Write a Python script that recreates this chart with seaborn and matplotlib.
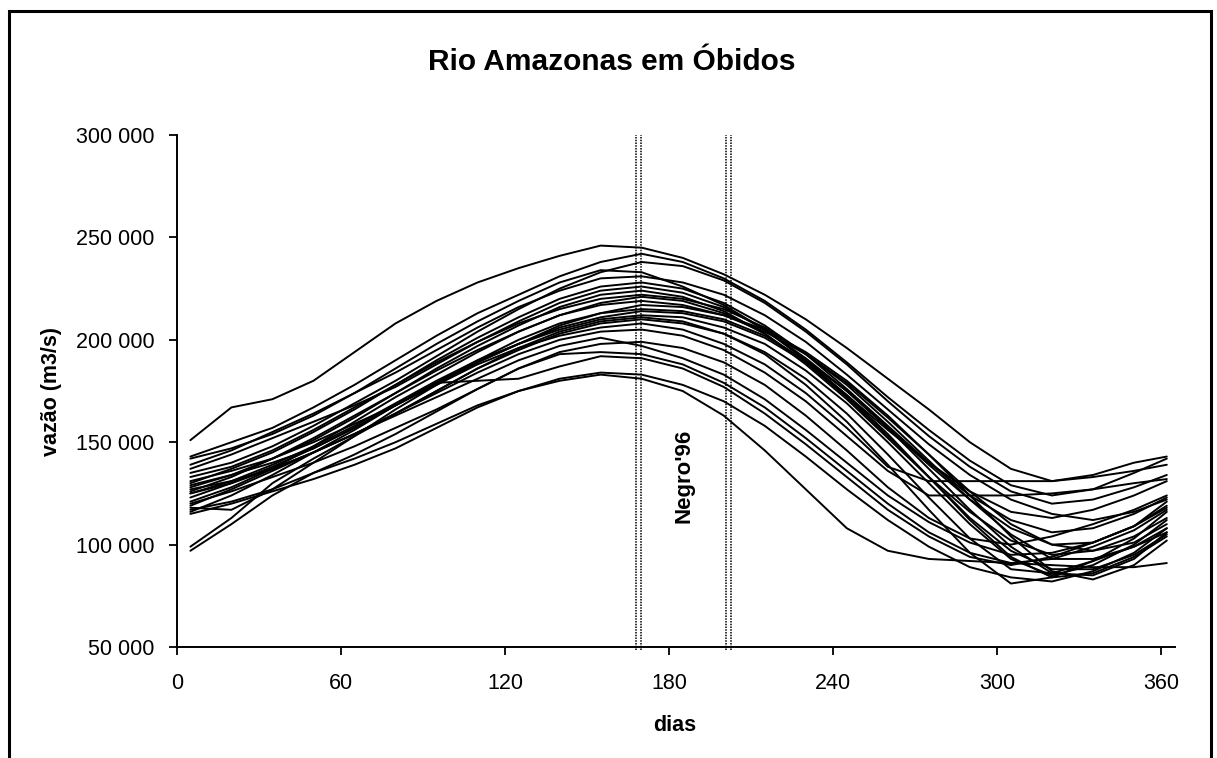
import pandas as pd
import matplotlib
matplotlib.use("Agg")
import matplotlib.pyplot as plt
from matplotlib.patches import Rectangle
from matplotlib.ticker import FuncFormatter
import seaborn as sns

# dias de leitura (eixo x) e vazões, em milhares de m3/s
dias = [5, 20, 35, 50, 65, 80, 95, 110, 125, 140, 155, 170, 185,
        200, 215, 230, 245, 260, 275, 290, 305, 320, 335, 350, 362]

serie_01 = [151, 167, 171, 180, 194, 208, 219, 228, 235, 241, 246, 245, 240, 232, 222, 210, 196, 181, 166, 150, 137, 131, 134, 140, 143]
serie_02 = [143, 150, 157, 167, 178, 190, 202, 213, 222, 231, 238, 242, 238, 230, 219, 205, 189, 172, 156, 141, 129, 124, 127, 135, 142]
serie_03 = [135, 140, 148, 158, 169, 180, 192, 204, 215, 225, 233, 238, 236, 229, 218, 204, 188, 170, 153, 138, 126, 120, 122, 128, 134]
serie_04 = [142, 147, 154, 163, 174, 186, 198, 209, 219, 228, 234, 233, 226, 217, 205, 190, 173, 156, 140, 126, 116, 113, 117, 124, 131]
serie_05 = [139, 146, 155, 164, 174, 184, 195, 206, 216, 224, 230, 231, 228, 222, 212, 199, 183, 166, 149, 134, 122, 115, 112, 116, 122]
serie_06 = [130, 137, 145, 155, 166, 178, 190, 201, 211, 220, 226, 228, 225, 218, 207, 193, 176, 158, 140, 124, 112, 106, 108, 115, 123]
serie_07 = [137, 144, 152, 160, 168, 177, 188, 199, 209, 218, 224, 226, 223, 216, 205, 191, 175, 157, 139, 122, 108, 100, 101, 109, 119]
serie_08 = [126, 133, 142, 151, 162, 174, 186, 197, 207, 216, 222, 224, 221, 214, 203, 188, 171, 152, 133, 116, 102, 95, 97, 104, 113]
serie_09 = [133, 138, 146, 156, 167, 178, 189, 199, 208, 215, 220, 222, 220, 215, 206, 193, 178, 160, 141, 122, 105, 93, 93, 99, 108]
serie_10 = [121, 128, 137, 148, 160, 172, 183, 194, 204, 212, 218, 221, 219, 213, 203, 189, 172, 153, 133, 113, 97, 88, 88, 95, 105]
serie_11 = [128, 134, 142, 152, 163, 174, 185, 195, 204, 212, 217, 219, 217, 212, 204, 193, 179, 162, 144, 126, 110, 100, 97, 101, 110]
serie_12 = [118, 117, 127, 140, 153, 166, 178, 189, 198, 207, 213, 217, 216, 212, 205, 194, 180, 163, 144, 124, 104, 87, 83, 90, 102]
serie_13 = [123, 130, 138, 147, 157, 168, 179, 190, 200, 208, 213, 215, 214, 210, 202, 190, 175, 157, 137, 117, 99, 86, 85, 93, 106]
serie_14 = [116, 124, 134, 145, 156, 168, 179, 189, 198, 206, 211, 214, 213, 209, 201, 189, 173, 154, 133, 112, 94, 84, 86, 94, 104]
serie_15 = [125, 131, 139, 148, 158, 169, 180, 190, 198, 205, 210, 212, 211, 206, 198, 185, 169, 150, 130, 110, 93, 85, 90, 100, 112]
serie_16 = [119, 127, 136, 145, 154, 164, 175, 186, 195, 203, 208, 210, 208, 203, 194, 181, 164, 144, 123, 103, 88, 86, 92, 103, 116]
serie_17 = [131, 136, 142, 150, 159, 168, 178, 188, 196, 202, 206, 208, 205, 198, 188, 174, 157, 138, 131, 131, 131, 131, 133, 136, 139]
serie_18 = [127, 131, 137, 145, 154, 164, 174, 184, 193, 200, 204, 205, 202, 195, 184, 170, 153, 136, 124, 124, 124, 125, 127, 130, 132]
serie_19 = [117, 121, 127, 135, 144, 154, 165, 176, 186, 194, 198, 199, 196, 189, 178, 163, 146, 128, 113, 103, 100, 104, 110, 117, 124]
serie_20 = [125, 130, 137, 145, 154, 163, 172, 181, 190, 197, 201, 197, 191, 183, 171, 156, 140, 124, 111, 101, 95, 96, 101, 109, 118]
serie_21 = [120, 126, 133, 140, 148, 157, 166, 176, 186, 193, 194, 193, 188, 179, 167, 152, 136, 120, 106, 96, 91, 93, 99, 107, 117]
serie_22 = [129, 134, 140, 147, 157, 168, 179, 180, 181, 187, 192, 191, 186, 177, 164, 149, 133, 117, 104, 94, 90, 94, 101, 109, 121]
serie_23 = [115, 120, 126, 132, 139, 147, 157, 167, 175, 181, 184, 183, 178, 170, 158, 143, 127, 112, 99, 89, 84, 82, 87, 96, 108]
serie_24 = [97, 110, 124, 135, 142, 150, 159, 168, 175, 180, 183, 181, 175, 163, 146, 127, 108, 97, 93, 92, 91, 90, 89, 89, 91]
serie_25 = [99, 113, 130, 142, 153, 164, 175, 186, 196, 204, 209, 211, 209, 203, 193, 178, 160, 139, 117, 96, 81, 84, 92, 99, 106]

series = [serie_01, serie_02, serie_03, serie_04, serie_05, serie_06, serie_07,
          serie_08, serie_09, serie_10, serie_11, serie_12, serie_13, serie_14,
          serie_15, serie_16, serie_17, serie_18, serie_19, serie_20, serie_21,
          serie_22, serie_23, serie_24, serie_25]

# janela do Negro'96 (linhas verticais pontilhadas)
janela_negro = [168, 169.6, 201, 202.7]

# tabela longa para o seaborn
linhas = []
for k, s in enumerate(series):
    for d, v in zip(dias, s):
        linhas.append({"ano": k, "dia": d, "vazao": v * 1000})
df = pd.DataFrame(linhas)

sns.set_style("ticks")
plt.rcParams["font.family"] = ["Liberation Sans", "DejaVu Sans"]
plt.rcParams["text.color"] = "black"
plt.rcParams["axes.labelcolor"] = "black"
plt.rcParams["xtick.color"] = "black"
plt.rcParams["ytick.color"] = "black"

fig = plt.figure(figsize=(12.17, 7.58), dpi=100)
ax = fig.add_axes([0.1452, 0.1464, 0.8203, 0.6755])

sns.lineplot(data=df, x="dia", y="vazao", units="ano", estimator=None,
             color="black", linewidth=1.4, ax=ax)

ax.vlines(janela_negro, 48500, 300000, colors="black", linewidth=1.1,
          linestyles=(0, (1, 0.8)), clip_on=False)
ax.text(185.6, 133500, "Negro'96", rotation=90, ha="center", va="center",
        fontsize=16, fontweight="bold")

ax.set_xlim(0, 365)
ax.set_ylim(50000, 300000)
ax.set_xticks(range(0, 361, 60))
ax.set_yticks(range(50000, 300001, 50000))
ax.yaxis.set_major_formatter(FuncFormatter(lambda v, p: f"{int(v):,}".replace(",", " ")))

sns.despine(ax=ax)
for sp in ["left", "bottom"]:
    ax.spines[sp].set_linewidth(1.4)
    ax.spines[sp].set_color("black")
ax.tick_params(axis="both", length=6, width=1.3, color="black",
               labelcolor="black", labelsize=15.5)
ax.tick_params(axis="x", pad=13)
ax.tick_params(axis="y", pad=10)

ax.set_xlabel("dias", fontsize=15.5, fontweight="bold")
ax.set_ylabel("vazão (m3/s)", fontsize=15.5, fontweight="bold")
ax.xaxis.set_label_coords(0.499, -0.133)
ax.yaxis.set_label_coords(-0.115, 0.5)

fig.text(0.503, 0.918, "Rio Amazonas em Óbidos", ha="center", va="center",
         fontsize=21.5, fontweight="bold")

# moldura do gráfico (cortada embaixo, como no original)
fig.add_artist(Rectangle((0.0070, -0.05), 0.9880, 1.036, transform=fig.transFigure,
                         fill=False, edgecolor="black", linewidth=2.2))

fig.savefig("out.png", dpi=100)
